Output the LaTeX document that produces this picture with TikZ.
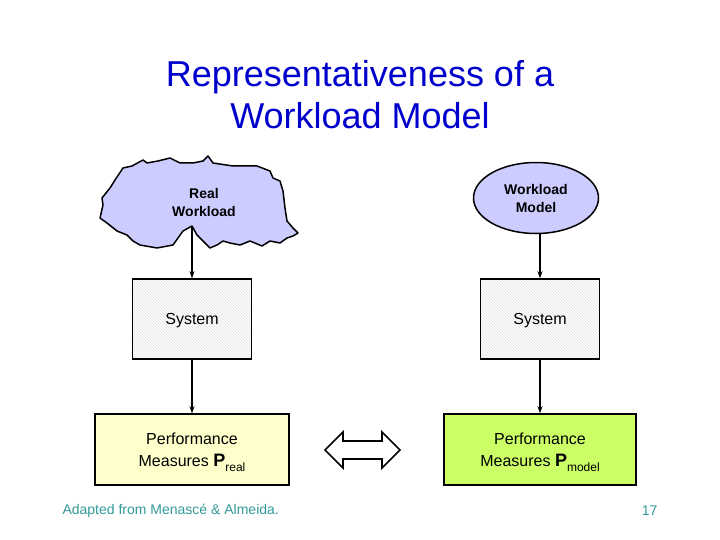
\documentclass[tikz,border=0pt]{standalone}
\usepackage{fontspec}
\setmainfont{Liberation Sans}
\usetikzlibrary{arrows.meta,shapes.geometric,patterns}

\definecolor{titleblue}{RGB}{0,0,204}
\definecolor{lavender}{RGB}{204,204,255}
\definecolor{paleyellow}{RGB}{255,255,204}
\definecolor{limegreen}{RGB}{204,255,102}
\definecolor{footteal}{RGB}{51,153,153}

\newcommand{\perfsub}[1]{\raisebox{-5pt}{\fontsize{12}{12}\selectfont #1}}

\tikzset{
    sysbox/.style={draw, line width=1.5pt, minimum width=119pt, minimum height=80pt,
        pattern=north west lines, pattern color=black!13, font=\fontsize{16}{19}\selectfont,
        text height=11.5pt, text depth=0pt},
    perfbox/.style={draw, line width=1.5pt, minimum width=194pt, minimum height=71pt,
        align=center, font=\fontsize{16}{22}\selectfont},
    flow/.style={-{Stealth[length=7pt,width=5pt]}, line width=1.1pt},
}

\begin{document}
\begin{tikzpicture}[x=1pt, y=-1pt]
    \useasboundingbox (0,0) rectangle (720,540);
    % Title
    \node[titleblue, align=center, font=\fontsize{36}{42}\selectfont] (title) at (360,95)
        {Representativeness of a\\Workload Model};
    % Real workload cloud
    \filldraw[fill=lavender, line width=1.5pt, line join=round]
        (102,198) -- (110,188) -- (115,180) -- (123,168) -- (132,166) -- (143,160)
        -- (147,163) -- (158,161) -- (170,158) -- (180,163) -- (193,163) -- (203,161)
        -- (208,156) -- (213,163) -- (233,166) -- (257,166) -- (270,171) -- (273,178)
        -- (280,181) -- (283,191) -- (285,208) -- (287,221) -- (293,228) -- (298,233)
        -- (293,236) -- (287,238) -- (280,243) -- (270,241) -- (262,246) -- (250,241)
        -- (240,245) -- (230,243) -- (223,241) -- (217,245) -- (210,248) -- (205,243)
        -- (197,235) -- (192,226) -- (183,231) -- (173,245) -- (157,248) -- (140,245)
        -- (133,241) -- (127,235) -- (117,231) -- (107,223) -- (100,218) -- (103,205)
        -- cycle;
    \coordinate (cloudtip) at (192,226);
    \node[align=center, font=\bfseries\fontsize{14}{18}\selectfont] (realwl) at (204,202)
        {Real\\Workload};
    % Workload model
    \node[ellipse, draw, fill=lavender, line width=1.5pt, minimum width=125pt,
        minimum height=71pt, align=center, font=\bfseries\fontsize{14}{18}\selectfont]
        (wlmodel) at (536,198) {Workload\\Model};
    % Systems
    \node[sysbox] (sysL) at (192,319) {System};
    \node[sysbox] (sysR) at (540,319) {System};
    % Performance measures
    \node[perfbox, fill=paleyellow] (perfL) at (192,449.5)
        {\rule{0pt}{18pt}Performance\\Measures {\fontsize{18}{18}\selectfont\bfseries P}\perfsub{real}};
    \node[perfbox, fill=limegreen, minimum width=192pt] (perfR) at (540,449.5)
        {\rule{0pt}{18pt}Performance\\Measures {\fontsize{18}{18}\selectfont\bfseries P}\perfsub{model}};
    % Edges
    \draw[flow] (cloudtip) -- (cloudtip |- sysL.north);
    \draw[flow] (sysL) -- (sysL |- perfL.north);
    \draw[flow] (sysR.north |- wlmodel.south) -- (sysR.north);
    \draw[flow] (sysR) -- (sysR |- perfR.north);
    % Comparison arrow
    \draw[line width=1.6pt, line join=miter]
        (325,450) -- (343,432) -- (343,441) -- (382,441) -- (382,432) -- (400,450)
        -- (382,468) -- (382,459) -- (343,459) -- (343,468) -- cycle;
    % Footer
    \node[footteal, anchor=west, font=\fontsize{14}{16}\selectfont] (credit) at (59,511)
        {Adapted from Menascé \& Almeida.};
    \node[footteal, anchor=east, font=\fontsize{14}{16}\selectfont] (pageno) at (661,511) {17};
\end{tikzpicture}
\end{document}
